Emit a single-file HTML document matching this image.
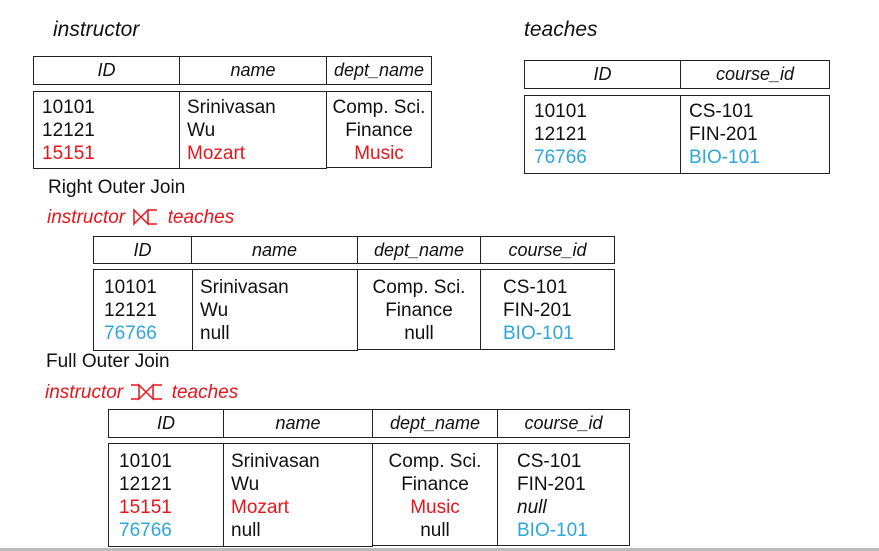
<!DOCTYPE html>
<html><head><meta charset="utf-8"><style>
body{margin:0;width:879px;height:551px;background:#fff;position:relative;overflow:hidden;font-family:"Liberation Sans",Arial,sans-serif;color:#111}
.b{position:absolute;border:1.5px solid #222;box-sizing:border-box}
.t{position:absolute;font-size:19px;line-height:23px;white-space:nowrap}
.h{position:absolute;font-size:18px;font-style:italic;text-align:center;line-height:28px}
.r{color:#e8151b}.c{color:#2ea6dc}
.i{font-style:italic}
</style></head><body>
<div class="t i" style="left:53px;top:18px;font-size:21px">instructor</div>
<div class="t i" style="left:524px;top:18px;font-size:21px">teaches</div>

<!-- instructor -->
<div class="b" style="left:33px;top:56px;width:147px;height:29px"></div><div class="h" style="left:33px;top:56px;width:147px">ID</div>
<div class="b" style="left:179px;top:56px;width:148px;height:29px"></div><div class="h" style="left:179px;top:56px;width:148px">name</div>
<div class="b" style="left:326px;top:56px;width:106px;height:29px"></div><div class="h" style="left:326px;top:56px;width:106px">dept_name</div>
<div class="b" style="left:33px;top:91px;width:147px;height:78px"></div>
<div class="b" style="left:179px;top:91px;width:148px;height:78px"></div>
<div class="b" style="left:326px;top:91px;width:106px;height:77px"></div>
<div class="t" style="left:42px;top:96px">10101<br>12121<br><span class="r">15151</span></div>
<div class="t" style="left:187px;top:96px">Srinivasan<br>Wu<br><span class="r">Mozart</span></div>
<div class="t" style="left:326px;top:96px;width:106px;text-align:center">Comp. Sci.<br>Finance<br><span class="r">Music</span></div>

<!-- teaches -->
<div class="b" style="left:524px;top:60px;width:157px;height:29px"></div><div class="h" style="left:524px;top:60px;width:157px">ID</div>
<div class="b" style="left:680px;top:60px;width:150px;height:29px"></div><div class="h" style="left:680px;top:60px;width:150px">course_id</div>
<div class="b" style="left:524px;top:95px;width:157px;height:79px"></div>
<div class="b" style="left:680px;top:95px;width:150px;height:79px"></div>
<div class="t" style="left:534px;top:100px">10101<br>12121<br><span class="c">76766</span></div>
<div class="t" style="left:689px;top:100px">CS-101<br>FIN-201<br><span class="c">BIO-101</span></div>

<div class="t" style="left:48px;top:176px;font-size:19px">Right Outer Join</div>
<div class="t i r" style="left:47px;top:206px;font-size:19px">instructor <svg width="26" height="18" style="vertical-align:-3px;margin:0 3px" fill="none" stroke="#e8151b" stroke-width="1.5"><path d="M1 2 L1 16 L15 2 L15 16 Z"/><path d="M15 2 L24 2 M15 16 L24 16"/></svg> teaches</div>

<div class="b" style="left:93px;top:236px;width:99px;height:28px"></div><div class="h" style="left:93px;top:236px;width:99px">ID</div>
<div class="b" style="left:191px;top:236px;width:167px;height:28px"></div><div class="h" style="left:191px;top:236px;width:167px">name</div>
<div class="b" style="left:357px;top:236px;width:124px;height:28px"></div><div class="h" style="left:357px;top:236px;width:124px">dept_name</div>
<div class="b" style="left:480px;top:236px;width:135px;height:28px"></div><div class="h" style="left:480px;top:236px;width:135px">course_id</div>
<div class="b" style="left:93px;top:269px;width:100px;height:82px"></div>
<div class="b" style="left:192px;top:269px;width:166px;height:82px"></div>
<div class="b" style="left:357px;top:269px;width:124px;height:81px"></div>
<div class="b" style="left:480px;top:269px;width:135px;height:81px"></div>
<div class="t" style="left:104px;top:276px">10101<br>12121<br><span class="c">76766</span></div>
<div class="t" style="left:200px;top:276px">Srinivasan<br>Wu<br>null</div>
<div class="t" style="left:357px;top:276px;width:124px;text-align:center">Comp. Sci.<br>Finance<br>null</div>
<div class="t" style="left:503px;top:276px">CS-101<br>FIN-201<br><span class="c">BIO-101</span></div>

<div class="t" style="left:46px;top:350px;font-size:19px">Full Outer Join</div>
<div class="t i r" style="left:45px;top:381px;font-size:19px">instructor <svg width="34" height="18" style="vertical-align:-3px;margin:0 2px" fill="none" stroke="#e8151b" stroke-width="1.5"><path d="M1 2 L9 2 M1 16 L9 16"/><path d="M9 2 L9 16 L23 2 L23 16 Z"/><path d="M23 2 L32 2 M23 16 L32 16"/></svg> teaches</div>

<div class="b" style="left:108px;top:409px;width:116px;height:29px"></div><div class="h" style="left:108px;top:409px;width:116px">ID</div>
<div class="b" style="left:223px;top:409px;width:150px;height:29px"></div><div class="h" style="left:223px;top:409px;width:150px">name</div>
<div class="b" style="left:372px;top:409px;width:126px;height:29px"></div><div class="h" style="left:372px;top:409px;width:126px">dept_name</div>
<div class="b" style="left:497px;top:409px;width:133px;height:29px"></div><div class="h" style="left:497px;top:409px;width:133px">course_id</div>
<div class="b" style="left:108px;top:443px;width:116px;height:104px"></div>
<div class="b" style="left:223px;top:443px;width:150px;height:104px"></div>
<div class="b" style="left:372px;top:443px;width:126px;height:103px"></div>
<div class="b" style="left:497px;top:443px;width:133px;height:103px"></div>
<div class="t" style="left:119px;top:450px">10101<br>12121<br><span class="r">15151</span><br><span class="c">76766</span></div>
<div class="t" style="left:231px;top:450px">Srinivasan<br>Wu<br><span class="r">Mozart</span><br>null</div>
<div class="t" style="left:372px;top:450px;width:126px;text-align:center">Comp. Sci.<br>Finance<br><span class="r">Music</span><br>null</div>
<div class="t" style="left:517px;top:450px">CS-101<br>FIN-201<br><i>null</i><br><span class="c">BIO-101</span></div>

<div style="position:absolute;left:0;top:548px;width:879px;height:3px;background:#bbb"></div>
</body></html>
